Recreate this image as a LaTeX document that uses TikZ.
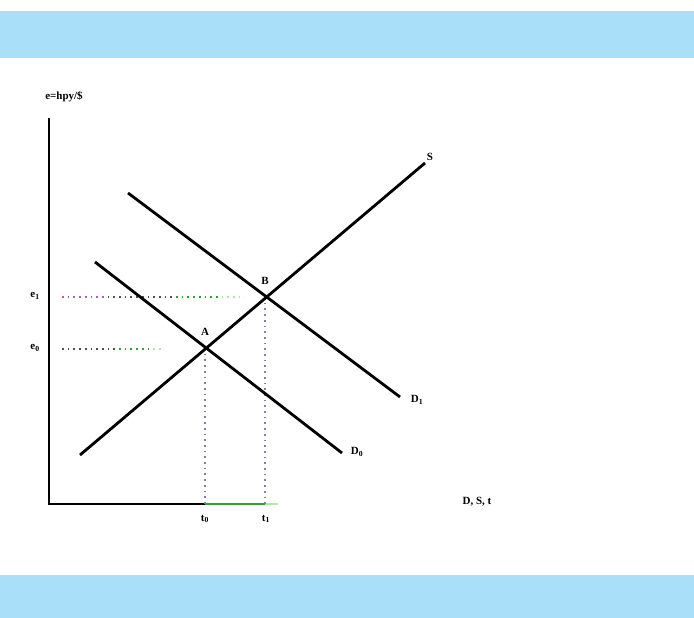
\documentclass[tikz,border=0pt]{standalone}
\usepackage{fontspec}
\setmainfont{Liberation Serif}
\begin{document}
\begin{tikzpicture}[x=1pt,y=-1pt,
  band/.style={fill=bandblue,draw=none},
  curve/.style={line width=2.8pt,black},
  axisline/.style={line width=1.8pt,black},
  lbl/.style={font=\fontsize{11}{12}\selectfont\bfseries,inner sep=1pt},
  guide/.style={line width=1.7pt,dash pattern=on 1.7pt off 4pt}]
\definecolor{bandblue}{HTML}{AADFF9}
\definecolor{dmag}{HTML}{B060B0}
\definecolor{dgrey}{HTML}{505050}
\definecolor{dgreen}{HTML}{30A030}
\definecolor{lgreen}{HTML}{B0E8A0}
\definecolor{vgrey}{HTML}{8080A0}
\useasboundingbox (0,0) rectangle (694,618);
\fill[white] (0,0) rectangle (694,618);
\fill[band] (0,11) rectangle (694,58);
\fill[band] (0,575) rectangle (694,618);

% axes
\coordinate (O) at (49,504);
\coordinate (ytop) at (49,118);
\coordinate (t0) at (205,504);
\coordinate (t1) at (265,504);
\coordinate (xend) at (278,504);
\draw[axisline] (ytop) -- (O) -- (t0);
\draw[line width=1.8pt,dgreen] (t0) -- (t1);
\draw[line width=1.8pt,lgreen] (t1) -- (xend);

% points
\coordinate (A) at (205,348);
\coordinate (B) at (265,297);

% guide lines
\coordinate (e1s) at (62,297);
\coordinate (e0s) at (62,349);
\draw[guide,dmag] (e1s) -- ++(45.6,0) coordinate (e1a);
\draw[guide,dgrey] (e1a) -- ++(68.4,0) coordinate (e1b);
\draw[guide,dgreen] (e1b) -- ++(45.6,0) coordinate (e1c);
\draw[guide,lgreen] (e1c) -- ++(22.8,0);
\draw[guide,dgrey] (e0s) -- ++(57,0) coordinate (e0a);
\draw[guide,dgreen] (e0a) -- ++(34.2,0) coordinate (e0b);
\draw[guide,lgreen] (e0b) -- ++(11.4,0);
\draw[guide,vgrey] (A) -- (t0);
\draw[guide,vgrey] (B) -- (t1);

% curves
\coordinate (Ss) at (80,455);
\coordinate (Se) at (425,163);
\coordinate (D1s) at (128,193);
\coordinate (D1e) at (400,397);
\coordinate (D0s) at (95,262);
\coordinate (D0e) at (342,453);
\draw[curve] (Ss) -- (Se);
\draw[curve] (D1s) -- (D1e);
\draw[curve] (D0s) -- (D0e);

% labels
\node[lbl] (ylab) at (64,97) {e=hpy/\$};
\node[lbl] (Slab) at (430,157) {S};
\node[lbl] (D1lab) at (417,400) {D\textsubscript{1}};
\node[lbl] (D0lab) at (357,452) {D\textsubscript{0}};
\node[lbl] (Alab) at (205,332) {A};
\node[lbl] (Blab) at (265,281) {B};
\node[lbl] (e1lab) at (35,296) {e\textsubscript{1}};
\node[lbl] (e0lab) at (35,348) {e\textsubscript{0}};
\node[lbl] (t0lab) at (205,519) {t\textsubscript{0}};
\node[lbl] (t1lab) at (266,519) {t\textsubscript{1}};
\node[lbl] (xlab) at (477,502) {D, S, t};
\end{tikzpicture}
\end{document}
